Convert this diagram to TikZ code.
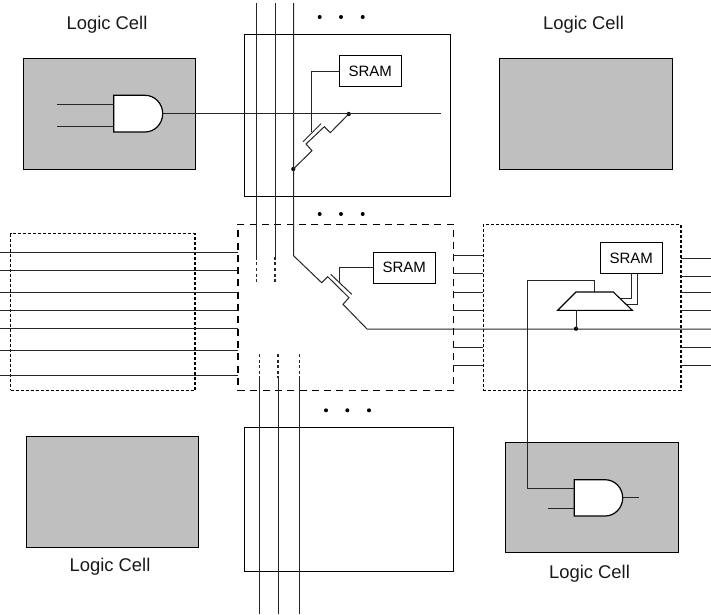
\documentclass[tikz,border=0pt]{standalone}
\usepackage{fontspec}
\setmainfont{Liberation Sans}
\tikzset{
  x=1pt,y=-1pt,
  boxbase/.style={rectangle,inner sep=0pt,outer sep=0pt,anchor=north west,line width=1pt},
  plainbox/.style={boxbase,draw=black},
  graycell/.style={boxbase,draw=black,fill=black!25,line width=1pt},
  longdash/.style={boxbase,draw=black,line width=1.2pt,dash pattern=on 7pt off 5.3pt},
  shortdash/.style={boxbase,draw=black,line width=1.2pt,dash pattern=on 3pt off 2pt},
  sramnode/.style={boxbase,draw=black,line width=1.1pt,minimum width=62pt,minimum height=31pt,font=\fontsize{15}{15}\selectfont},
  cellwords/.style={inner sep=0pt,font=\fontsize{18.4}{19}\selectfont,text=black!90},
  wire/.style={line width=1pt,draw=black!85},
  dotwire/.style={wire,line width=1.1pt,dash pattern=on 3pt off 2.6pt},
  gatebody/.style={line width=1.2pt,draw=black,fill=white},
  spot/.style={circle,fill=black,draw=none,inner sep=0pt,minimum size=4.2pt},
  ell/.style={circle,fill=black,draw=none,inner sep=0pt,minimum size=4pt},
}
\begin{document}
\begin{tikzpicture}
\useasboundingbox (0,0) rectangle (711,614);

% boxes
\node[plainbox,minimum width=206pt,minimum height=162.5pt] (topbox) at (244.3,34) {};
\node[plainbox,minimum width=209pt,minimum height=144pt] (botbox) at (244.3,427.3) {};
\node[graycell,minimum width=172pt,minimum height=110.7pt] (celltl) at (23,58.3) {};
\node[graycell,minimum width=173pt,minimum height=111pt] (celltr) at (499,58) {};
\node[graycell,minimum width=172pt,minimum height=111pt] (cellbl) at (26,436) {};
\node[graycell,minimum width=172.7pt,minimum height=110pt] (cellbr) at (505.3,442.7) {};
\node[longdash,minimum width=215.3pt,minimum height=166.2pt] (midbox) at (238,224.3) {};
\node[shortdash,minimum width=184.3pt,minimum height=156.6pt] (leftbox) at (10.7,233.7) {};
\node[shortdash,minimum width=197.7pt,minimum height=165.6pt] (rightbox) at (483.3,224.7) {};

% labels
\node[cellwords] (lab1) at (107,25) {Logic Cell};
\node[cellwords] (lab2) at (583.5,25) {Logic Cell};
\node[cellwords] (lab3) at (110,567) {Logic Cell};
\node[cellwords] (lab4) at (589.5,574) {Logic Cell};

% ellipses
\foreach \i/\xa in {a/319.7,b/341,c/362.7}{
  \node[ell] (dt\i) at (\xa,17) {};
  \node[ell] (dm\i) at (\xa,214) {};
}
\foreach \i/\xa in {a/326,b/347.3,c/369}{
  \node[ell] (db\i) at (\xa,410.3) {};
}

% SRAM
\node[sramnode] (sramtop) at (339.3,55.5) {SRAM};
\node[sramnode] (srammid) at (373.3,252.3) {SRAM};
\node[sramnode] (sramright) at (600.3,242.6) {SRAM};

% vertical tracks, top
\coordinate (ta) at (256.5,3); \coordinate (tb) at (275,3); \coordinate (tc) at (293.5,3);
\coordinate (sa) at (256.5,256.7); \coordinate (sb) at (275,256.7); \coordinate (sc) at (293.5,255.7);
\coordinate (ea) at (256.5,283); \coordinate (eb) at (275,283);
\draw[wire] (ta) -- (sa);
\draw[wire] (tb) -- (sb);
\draw[dotwire] (sa) -- (ea);
\draw[dotwire] (sb) -- (eb);

% vertical tracks, bottom
\foreach \n/\xa in {a/259.7,b/278,c/299.7}{
  \coordinate (ub\n) at (\xa,354);
  \coordinate (vb\n) at (\xa,378);
  \coordinate (wb\n) at (\xa,614);
  \draw[dotwire] (ub\n) -- (vb\n);
  \draw[wire] (vb\n) -- (wb\n);
}

% left horizontal tracks
\foreach \ya in {252.3,270.7,292,310.3,328.7,350.3,375}{
  \draw[wire] (0,\ya) -- (238,\ya);
}
% stubs between mid and right boxes
\foreach \ya in {255,273.5,292,310.3,347.2,365.8}{
  \draw[wire] (453.3,\ya) -- (483.3,\ya);
}
% stubs right of right box
\foreach \ya in {258.3,276.7,292,310.3,347.3,365.7}{
  \draw[wire] (681,\ya) -- (711,\ya);
}

% top switch
\node[spot] (jt1) at (293.3,169) {};
\node[spot] (jt2) at (348.7,114) {};
\coordinate (tz1) at (312,150.7);
\coordinate (tz2) at (306,144);
\coordinate (tz3) at (324.3,126.7);
\coordinate (tz4) at (330.3,132.7);
\coordinate (tg1) at (303,141.7);
\coordinate (tg2) at (321,123.7);
\coordinate (tgw) at (311.7,132);
\draw[wire] (jt1.center) -- (tz1) -- (tz2) -- (tz3) -- (tz4) -- (jt2.center);
\draw[wire] (tg1) -- (tg2);
\draw[wire] (tgw) -- (tgw |- sramtop.west) -- (sramtop.west);

% mid switch
\coordinate (mz1) at (321.7,282.7);
\coordinate (mz2) at (327.7,276.7);
\coordinate (mz3) at (349,297.7);
\coordinate (mz4) at (343,304.3);
\coordinate (mz5) at (367,329);
\coordinate (mg1) at (330.7,274.3);
\coordinate (mg2) at (351.7,294.3);
\coordinate (mgw) at (339.3,282.5);
\coordinate (mr) at (711,329);
\draw[wire] (tc) -- (sc) -- (mz1) -- (mz2) -- (mz3) -- (mz4) -- (mz5) -- (mr);
\draw[wire] (mg1) -- (mg2);
\draw[wire] (mgw) -- (mgw |- srammid.west) -- (srammid.west);

% mux
\coordinate (mxa) at (576,292);
\coordinate (mxb) at (613.3,292);
\coordinate (mxc) at (632.3,310.3);
\coordinate (mxd) at (557.7,310.3);
\coordinate (mxt) at (594.3,292);
\coordinate (mxs) at (576,310.3);
\node[spot] (jm) at (576,328.7) {};
\draw[wire] (mxt) -- (594.3,280) -- (527,280) coordinate (muxup) -- (527,488.7) coordinate (andin);
\draw[wire] (mxs) -- (jm.center);
\draw[wire] (631.7,273.3) -- (631.7,298) -- (620,298);
\draw[wire] (637.7,273.3) -- (637.7,304.3) -- (626.7,304.3);
\draw[line width=1.1pt,draw=black] (mxa) -- (mxb) -- (mxc) -- (mxd) -- cycle;

% top-left gate
\draw[wire] (57,104.7) -- (113.7,104.7);
\draw[wire] (57,126) -- (113.7,126);
\draw[wire] (162.7,113.7) -- (441,113.7);
\draw[gatebody] (113.7,95.3) -- (145,95.3) arc[start angle=-90,end angle=90,x radius=17.7pt,y radius=-18.35pt] -- (113.7,132) -- cycle;

% bottom-right gate
\draw[wire] (andin) -- (574.3,488.7);
\draw[wire] (548.3,508.7) -- (574.3,508.7);
\draw[wire] (622.7,497.7) -- (639,497.7);
\draw[gatebody] (574.3,479.7) -- (605,479.7) arc[start angle=-90,end angle=90,x radius=17.7pt,y radius=-18.15pt] -- (574.3,516) -- cycle;
\end{tikzpicture}
\end{document}
